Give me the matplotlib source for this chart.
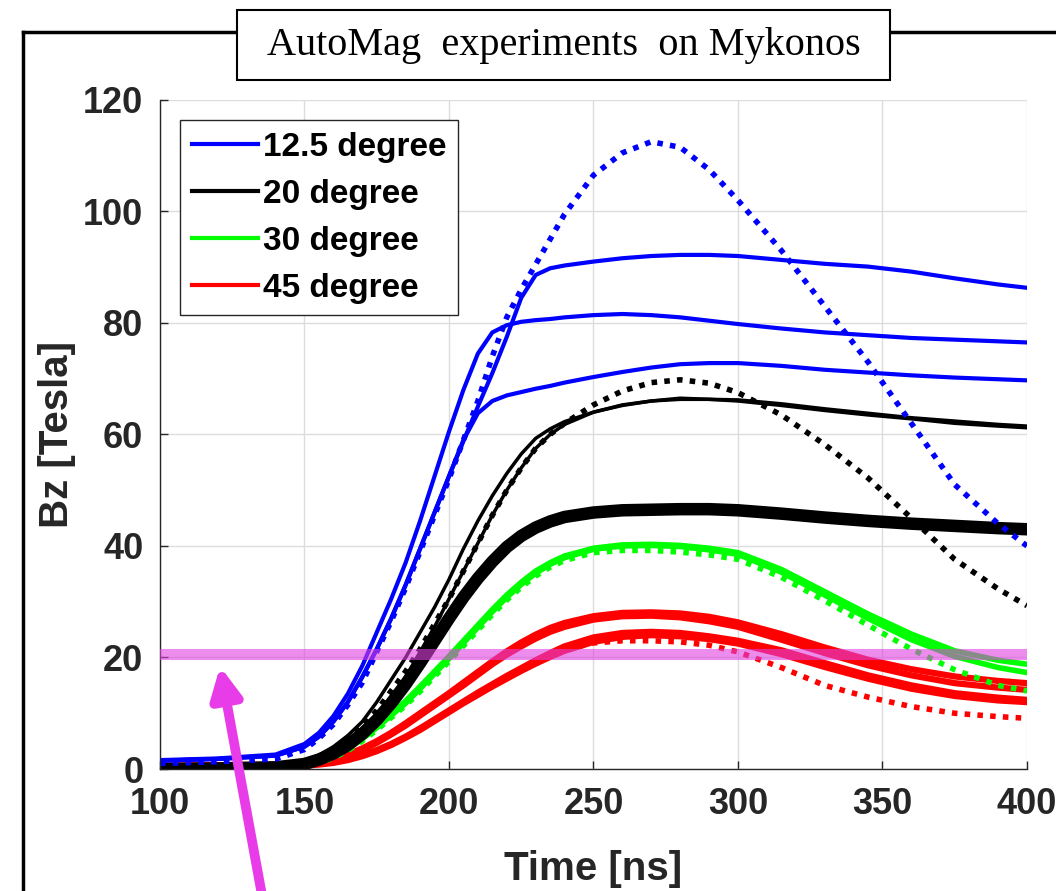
import numpy as np
import matplotlib
matplotlib.use('Agg')
import matplotlib.pyplot as plt
from matplotlib.lines import Line2D
from matplotlib.patches import Rectangle

# Time grid [ns] shared by all traces.
t = [100, 120, 140, 150, 155, 160, 165, 170, 175, 180, 185, 190, 195, 200, 205,
     210, 215, 220, 225, 230, 235, 240, 250, 260, 270, 280, 290, 300, 315, 330,
     345, 360, 375, 390, 400]

# 12.5 degree traces [Tesla].
blue_a = [1.5, 1.8, 2.4, 4.0, 5.8, 8.5, 12, 16.5, 21.5, 27, 33, 39.5, 46, 52.5, 58.8,
          65, 71, 77.5, 84.5, 88.6, 89.8, 90.3, 91, 91.6, 92, 92.2, 92.2, 92, 91.3, 90.6,
          90.1, 89.2, 88, 86.9, 86.3]
blue_b = [1.6, 1.9, 2.6, 4.5, 6.5, 9.5, 13.5, 18.5, 24.5, 30.5, 37, 44.5, 52.5, 60.5, 68,
          74.5, 78.3, 79.6, 80.2, 80.5, 80.7, 81, 81.4, 81.6, 81.4, 81, 80.4, 79.8, 79, 78.3,
          77.8, 77.3, 77, 76.7, 76.5]
blue_c = [1.5, 1.8, 2.4, 4.0, 5.8, 8.5, 12, 16.5, 21.5, 27, 33, 39.5, 46, 52.5, 59,
          63.8, 66, 67, 67.6, 68.2, 68.7, 69.3, 70.3, 71.2, 72, 72.6, 72.8, 72.8, 72.3, 71.6,
          71.1, 70.6, 70.2, 69.9, 69.7]
blue_dot = [1.0, 1.3, 1.8, 3.5, 5.5, 8, 11.5, 15.5, 21, 26.5, 32.5, 39, 45.5, 52, 59,
            66, 74, 81, 86, 90.5, 95, 99.5, 106.5, 110.5, 112.5, 111.5, 107.5, 102, 93, 83,
            73, 62, 51, 44, 40]

# 20 degree traces.
black_1 = [0.2, 0.3, 0.6, 1.5, 2.5, 4, 6, 8.5, 12, 16, 20, 24.5, 29, 34, 39.5,
           44.5, 49, 53, 56.5, 59.3, 61, 62.3, 64, 65.2, 66, 66.3, 66.3, 66, 65.2, 64.3,
           63.5, 62.8, 62, 61.5, 61.2]
black_2 = [0.1, 0.2, 0.5, 1, 1.8, 3, 4.5, 6.5, 9, 12.5, 16.5, 21, 25.5, 30.5, 35.5,
           40.5, 45.5, 50, 54, 57.5, 60, 61.8, 64, 65.3, 66, 66.5, 66.3, 66.2, 65.5, 64.6,
           63.8, 63, 62.4, 61.8, 61.5]
black_thick = [0, 0.1, 0.3, 0.9, 1.7, 2.8, 4.3, 6.3, 8.8, 11.8, 15.2, 19, 23, 27, 30.8,
               34.2, 37.2, 39.8, 41.8, 43.3, 44.4, 45.2, 46, 46.4, 46.5, 46.6, 46.6, 46.4, 45.8, 45.1,
               44.5, 44, 43.6, 43.2, 43]
black_dot = [0.2, 0.3, 0.5, 1.2, 2.2, 3.5, 5.3, 7.5, 10.5, 14, 17.5, 21.5, 26, 30.5, 35.5,
             40.5, 45.5, 50, 54, 57.5, 60, 62, 65.3, 67.8, 69.3, 69.8, 69.2, 67.5, 63.5, 58.2,
             52.2, 45, 37.6, 32.3, 29.3]

# 30 degree traces.
green_1 = [0.3, 0.3, 0.4, 0.8, 1.4, 2.5, 4, 5.8, 7.8, 10, 12.2, 14.8, 17.5, 20.2, 23,
           25.8, 28.6, 31.2, 33.5, 35.5, 37, 38.2, 39.6, 40.2, 40.3, 40.1, 39.6, 38.8, 35.8, 31.8,
           27.8, 24.2, 21.2, 19.5, 18.8]
green_2 = [0.3, 0.3, 0.4, 0.7, 1.2, 2.2, 3.6, 5.4, 7.4, 9.6, 11.8, 14.4, 17.1, 19.8, 22.6,
           25.4, 28.2, 30.8, 33.1, 35.1, 36.7, 37.9, 39.4, 40, 40.1, 39.9, 39.3, 38.5, 35.3, 31.2,
           27, 23.2, 20.2, 18.2, 17.3]
green_dot = [0.3, 0.3, 0.4, 0.7, 1.1, 2, 3.3, 5, 7, 9.2, 11.4, 13.9, 16.6, 19.3, 22.1,
             24.9, 27.7, 30.3, 32.6, 34.6, 36.2, 37.4, 38.8, 39.2, 39.2, 38.9, 38.4, 37.6, 34.4, 30.2,
             25.8, 21.5, 17.8, 15, 14]

# 45 degree traces.
red_1 = [0.6, 0.7, 0.8, 1, 1.3, 1.8, 2.6, 3.7, 5, 6.5, 8.2, 10, 11.8, 13.6, 15.5,
         17.4, 19.3, 21.1, 22.7, 24.1, 25.3, 26.2, 27.4, 28, 28.1, 27.9, 27.3, 26.3, 24.2, 21.8,
         19.6, 17.9, 16.6, 15.8, 15.4]
red_2 = [0.5, 0.6, 0.7, 0.9, 1.2, 1.7, 2.4, 3.4, 4.7, 6.2, 7.8, 9.6, 11.4, 13.2, 15,
         16.9, 18.8, 20.5, 22, 23.4, 24.6, 25.5, 26.8, 27.4, 27.5, 27.2, 26.5, 25.5, 23.2, 20.8,
         18.6, 16.8, 15.4, 14.6, 14.2]
red_3 = [0.4, 0.5, 0.6, 0.7, 0.9, 1.2, 1.8, 2.5, 3.4, 4.5, 5.8, 7.3, 8.9, 10.5, 12.1,
         13.7, 15.2, 16.7, 18.1, 19.5, 20.8, 22, 23.6, 24.4, 24.6, 24.4, 23.8, 23, 21.3, 19,
         16.8, 15, 13.6, 12.8, 12.4]
red_4 = [0.3, 0.4, 0.5, 0.6, 0.8, 1.1, 1.6, 2.3, 3.2, 4.3, 5.6, 7, 8.6, 10.2, 11.8,
         13.3, 14.8, 16.2, 17.6, 18.9, 20.1, 21.2, 22.8, 23.7, 24, 23.8, 23.3, 22.5, 20.6, 18.3,
         16.2, 14.4, 13.1, 12.3, 12]
red_dot = [0.4, 0.5, 0.6, 0.7, 0.9, 1.2, 1.7, 2.4, 3.3, 4.4, 5.7, 7.1, 8.7, 10.3, 11.9,
           13.4, 14.9, 16.4, 17.8, 19.1, 20.3, 21.4, 22.6, 23, 23, 22.8, 22.2, 21, 18.2, 15,
           12.9, 11.2, 10, 9.4, 9.1]

legend_labels = ['12.5 degree', '20 degree', '30 degree', '45 degree']
legend_colors = ['#0000FF', '#000000', '#00FF00', '#FF0000']
threshold = 20.7  # highlighted level [Tesla]

plt.rcParams['font.family'] = ['Liberation Sans', 'DejaVu Sans']

fig = plt.figure(figsize=(10.56, 8.91), dpi=100)
fig.patch.set_facecolor('white')
ax = fig.add_axes([0.1515, 0.1369, 0.821, 0.751])

dots = dict(linestyle=(0, (1, 1.3)), lw=4)

# Red group.
for y in [red_4, red_3, red_2, red_1]:
    ax.plot(t, y, color='#FF0000', lw=4.5)
ax.plot(t, red_dot, color='#FF0000', **dots)

# Green group.
for y in [green_2, green_1]:
    ax.plot(t, y, color='#00FF00', lw=4)
ax.plot(t, green_dot, color='#00FF00', **dots)

# Black group.
ax.plot(t, black_thick, color='black', lw=9)
for y in [black_1, black_2]:
    ax.plot(t, y, color='black', lw=2.5)
ax.plot(t, black_dot, color='black', **dots)

# Blue group.
for y in [blue_a, blue_b, blue_c]:
    ax.plot(t, y, color='#0000FF', lw=3)
ax.plot(t, blue_dot, color='#0000FF', **dots)

# Threshold band and arrow.
ax.axhline(threshold, color='#E040E0', alpha=0.6, lw=8, zorder=5)
ax.annotate('', xy=(120.8, 18.4), xytext=(135.6, -23.5),
            arrowprops=dict(arrowstyle='-|>', color='#E83CE8', lw=7,
                            mutation_scale=45, shrinkA=0, shrinkB=0),
            annotation_clip=False, zorder=6)

ax.set_xlim(100, 400)
ax.set_ylim(0, 120)
ax.set_xticks(np.arange(100, 401, 50))
ax.set_yticks(np.arange(0, 121, 20))
ax.grid(True, color='#dcdcdc', lw=1)
ax.set_axisbelow(True)
for s in ['top', 'right']:
    ax.spines[s].set_visible(False)
for s in ['left', 'bottom']:
    ax.spines[s].set_color('#262626')
    ax.spines[s].set_linewidth(1)
ax.tick_params(direction='in', length=6, width=1, color='#262626',
               labelsize=26, labelcolor='#262626')
ax.tick_params(axis='x', pad=13)
ax.tick_params(axis='y', pad=12)
for lab in ax.get_xticklabels() + ax.get_yticklabels():
    lab.set_fontweight('bold')
ax.set_xlabel('Time [ns]', fontsize=29, fontweight='bold', color='#262626', labelpad=20)
ax.set_ylabel('Bz [Tesla]', fontsize=29, fontweight='bold', color='#262626', labelpad=5)

handles = [Line2D([0], [0], color=c, lw=3) for c in legend_colors]
leg = ax.legend(handles, legend_labels, loc='upper left', bbox_to_anchor=(0.023, 0.97),
                borderaxespad=0, fancybox=False, framealpha=1, edgecolor='#262626',
                prop={'weight': 'bold', 'size': 24}, handlelength=2.0, handletextpad=0.15,
                labelspacing=0.48, borderpad=0.35)
leg.get_frame().set_linewidth(1)

# Outer frame and title box.
fig.add_artist(Line2D([0.0218, 0.0218], [0, 0.964], color='black', lw=2.5))
fig.add_artist(Line2D([0.0218, 1.0], [0.964, 0.964], color='black', lw=2.5))
fig.add_artist(Rectangle((0.2244, 0.9102), 0.6184, 0.0786, transform=fig.transFigure,
                         facecolor='white', edgecolor='black', lw=1.5, zorder=3))
fig.text(0.5336, 0.9485, 'AutoMag  experiments  on Mykonos', ha='center', va='center',
         fontsize=29, family='Liberation Serif', zorder=4)

fig.savefig('out.png', dpi=100)
